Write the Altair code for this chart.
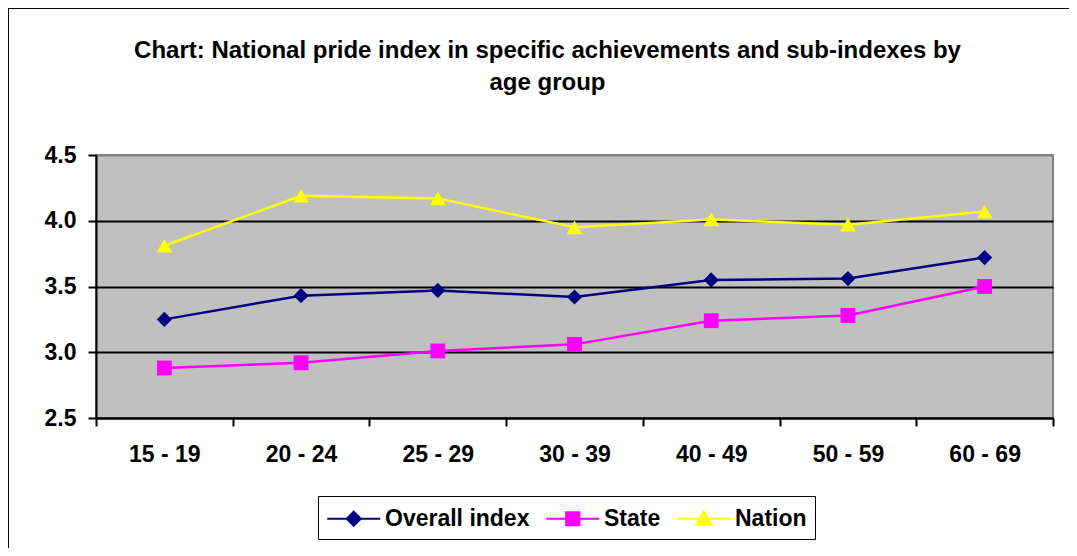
import altair as alt
import pandas as pd

ages = ["15 - 19", "20 - 24", "25 - 29", "30 - 39", "40 - 49", "50 - 59", "60 - 69"]
series_names = ["Overall index", "State", "Nation"]
overall = [3.25, 3.43, 3.47, 3.42, 3.55, 3.56, 3.72]
state = [2.88, 2.92, 3.01, 3.06, 3.24, 3.28, 3.50]
nation = [3.81, 4.19, 4.17, 3.95, 4.01, 3.97, 4.07]
colors = ["#000080", "#FF00FF", "#FFFF00"]
y_ticks = [2.5, 3.0, 3.5, 4.0, 4.5]

rows = []
for name, vals in zip(series_names, [overall, state, nation]):
    for a, v in zip(ages, vals):
        rows.append({"age": a, "series": name, "value": v})
df = pd.DataFrame(rows)

FONT = "Liberation Sans"
FS = 23

x_enc = alt.X(
    "age:N",
    sort=ages,
    scale=alt.Scale(type="band", paddingInner=0, paddingOuter=0),
    axis=alt.Axis(
        title=None, labelAngle=0, tickBand="extent", grid=False,
        domainColor="black", domainWidth=2, tickColor="black", tickWidth=2,
        tickSize=8, labelPadding=17, labelFont=FONT, labelFontSize=FS,
        labelFontWeight="bold", labelColor="black",
    ),
)
y_enc = alt.Y(
    "value:Q",
    scale=alt.Scale(domain=[2.5, 4.5], nice=False, zero=False),
    axis=alt.Axis(
        title=None, values=y_ticks, format=".1f", grid=True,
        gridColor={"condition": {"test": "datum.value >= 4.5", "value": "#808080"}, "value": "black"},
        gridWidth=2, domainColor="black", domainWidth=2, tickColor="black",
        tickWidth=2, tickSize=8, labelPadding=12, labelFont=FONT,
        labelFontSize=FS, labelFontWeight="bold", labelColor="black",
    ),
)
color_scale = alt.Scale(domain=series_names, range=colors)

base = alt.Chart(df)

legend_paths = [
    "M-1,0L3,0M1,-0.53L1.53,0L1,0.53L0.47,0Z",
    "M-1,0L3,0M0.5,-0.5L1.5,-0.5L1.5,0.5L0.5,0.5Z",
    "M-1,0L3,0M1,-0.55L1.58,0.45L0.42,0.45Z",
]
leg = alt.Legend(
    title=None, orient="none", legendX=222, legendY=341, direction="horizontal",
    strokeColor="black", fillColor="white", padding=8,
    symbolSize=702, symbolStrokeWidth=2, symbolOpacity=1, labelOffset=30, columnPadding=12,
    labelFont=FONT, labelFontSize=FS, labelFontWeight="bold", labelColor="black",
)
legend_layer = base.mark_point(filled=True, size=1, opacity=1).encode(
    x=x_enc, y=y_enc,
    shape=alt.Shape("series:N", scale=alt.Scale(domain=series_names, range=legend_paths), legend=leg),
    fill=alt.Fill("series:N", scale=alt.Scale(domain=series_names, range=colors), legend=leg),
    stroke=alt.Stroke("series:N", scale=alt.Scale(domain=series_names, range=colors), legend=leg),
)

lines = base.mark_line(strokeWidth=2.5).encode(
    x=x_enc, y=y_enc,
    color=alt.Color("series:N", scale=color_scale, legend=None),
    detail="series:N",
)

shapes = ["diamond", "square", "triangle-up"]
sizes = [230, 220, 250]
point_layers = []
for name, shp, sz in zip(series_names, shapes, sizes):
    point_layers.append(
        base.transform_filter(alt.datum.series == name)
        .mark_point(shape=shp, filled=True, size=sz, opacity=1)
        .encode(x=x_enc, y=y_enc,
                color=alt.Color("series:N", scale=color_scale, legend=None))
    )

frame = alt.Chart(pd.DataFrame({"k": [0]})).mark_rect(
    fill=None, stroke="black", strokeWidth=2
).encode(x=alt.value(-88), x2=alt.value(1200), y=alt.value(-147), y2=alt.value(800))

chart = (
    alt.layer(frame, legend_layer, lines, *point_layers)
    .properties(
        width=957, height=263,
        autosize=alt.AutoSizeParams(type="none"),
        padding={"left": 88, "top": 147, "right": 16, "bottom": 130},
        title=alt.TitleParams(
            ["Chart: National pride index in specific achievements and sub-indexes by", "age group"],
            font=FONT, fontSize=24, fontWeight="bold", color="black",
            anchor="middle", frame="group", lineHeight=32, offset=-88, dx=-27,
        ),
    )
    .configure_view(fill="#C0C0C0", stroke="#808080", strokeWidth=2)
)

chart.save("out.html", embed_options={"renderer": "svg", "actions": False})
